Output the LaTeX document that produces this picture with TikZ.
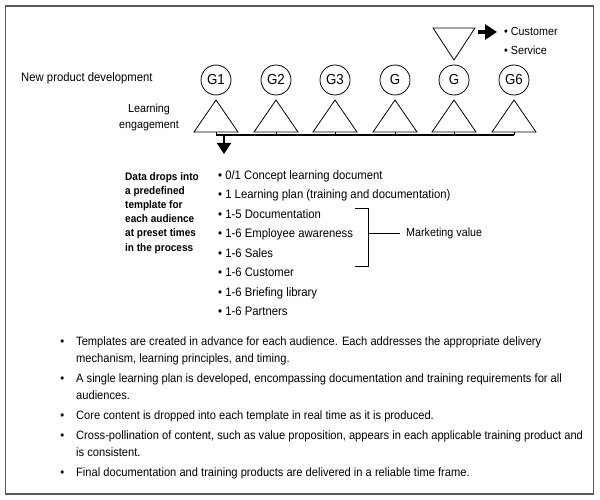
\documentclass[tikz,border=0pt]{standalone}
\usepackage{fontspec}
\setmainfont{Liberation Sans}[FakeStretch=0.92]
\usetikzlibrary{arrows.meta}
\newcommand{\bulletmark}{\llap{•\hspace{12pt}}}
\begin{document}
\begin{tikzpicture}[x=1pt,y=-1pt,
  txt/.style={inner sep=0pt, font=\fontsize{12.3}{17.5}\selectfont},
  body/.style={inner sep=0pt, font=\fontsize{12.1}{17.5}\selectfont},
  small/.style={inner sep=0pt, font=\fontsize{11.7}{16}\selectfont},
  bold/.style={inner sep=0pt, font=\fontsize{10.9}{14.2}\selectfont\bfseries},
  gate/.style={circle, draw, line width=0.8pt, minimum size=30pt, inner sep=0pt, font=\fontsize{14.5}{16}\selectfont},
  tri/.style={draw, line width=0.8pt, line join=miter},
  frame/.style={draw=black!65, line width=1.2pt},
  bus/.style={line width=1.5pt},
  tick/.style={line width=0.6pt},
]
\useasboundingbox (0,0) rectangle (600,500);
\draw[frame] (5.5,6) rectangle (593.5,494);

% gates, triangles and bus
\foreach \i/\x/\t in {1/216/G1,2/276/G2,3/335/G3,4/395/G,5/454/G,6/514/G6}{
  \node[gate] (g\i) at (\x,80) {\t};
  \coordinate (b\i) at (\x,132);
  \coordinate (s\i) at (\x,135);
  \draw[tri] (b\i) ++(-22,0) -- ++(22,-32) -- ++(22,32) -- cycle;
  \draw[tick] (b\i) -- (s\i);
}
\draw[bus] (s1) -- (s6);

% down arrow
\coordinate (d1) at (224,135);
\coordinate (d2) at (224,154);
\draw[line width=2.2pt, -{Triangle[length=11pt,width=14pt]}] (d1) -- (d2);

% inverted triangle and right arrow
\coordinate (it) at (454,60);
\draw[tri] (it) -- ++(-21,-32) -- ++(42,0) -- cycle;
\coordinate (r1) at (478,32);
\coordinate (r2) at (497,32);
\draw[line width=3.5pt, -{Triangle[length=12pt,width=15pt]}] (r1) -- (r2);
\node[small, anchor=base west] (cust) at (504,36) {• Customer};
\node[small, anchor=base west] (serv) at (504,55) {• Service};

% left labels
\node[txt, anchor=base west] (npd) at (21,82) {New product development};
\node[small, anchor=north, align=center] (le) at (149,104) {Learning\\engagement};

\node[bold, anchor=north west, align=left] (dd) at (125,172) {Data drops into\\a predefined\\template for\\each audience\\at preset times\\in the process};

% list
\foreach \j/\t in {0/{0/1 Concept learning document},1/{1 Learning plan (training and documentation)},2/{1-5 Documentation},3/{1-6 Employee awareness},4/{1-6 Sales},5/{1-6 Customer},6/{1-6 Briefing library},7/{1-6 Partners}}{
  \node[txt, anchor=base west] (li\j) at (218,{179.2+19.5*\j}) {• \t};
}

% bracket
\coordinate (k1) at (355,208);
\coordinate (k2) at (368,208);
\coordinate (k3) at (368,266);
\coordinate (k4) at (355,266);
\coordinate (km) at (368,233);
\coordinate (kn) at (400,233);
\node[small, anchor=west] (mv) at (406,233) {Marketing value};
\draw[line width=0.8pt] (k1) -- (k2) -- (k3) -- (k4);
\draw[line width=0.8pt] (km) -- (kn);

% bottom bullets
\foreach \k/\y/\t in {
  1/336.5/{Templates are created in advance for each audience. Each addresses the appropriate delivery\\mechanism, learning principles, and timing.},
  2/373.5/{A single learning plan is developed, encompassing documentation and training requirements for all\\audiences.},
  3/410.5/{Core content is dropped into each template in real time as it is produced.},
  4/430.5/{Cross-pollination of content, such as value proposition, appears in each applicable training product and\\is consistent.},
  5/467.5/{Final documentation and training products are delivered in a reliable time frame.}}{
  \node[body, anchor=north west, align=left] (bt\k) at (76,\y) {\bulletmark\t};
}
\end{tikzpicture}
\end{document}
